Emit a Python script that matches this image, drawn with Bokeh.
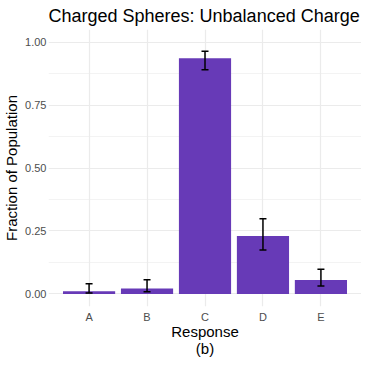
from bokeh.plotting import figure
from bokeh.models import ColumnDataSource, Range1d, FactorRange, FixedTicker, NumeralTickFormatter, Whisker, TeeHead
from bokeh.embed import file_html
from bokeh.resources import INLINE

categories = ["A", "B", "C", "D", "E"]
fraction = [0.011, 0.021, 0.936, 0.230, 0.055]
err_low = [0.004, 0.009, 0.890, 0.174, 0.031]
err_high = [0.040, 0.056, 0.964, 0.298, 0.098]
y_ticks = [0.0, 0.25, 0.5, 0.75, 1.0]
y_minor = [0.125, 0.375, 0.625, 0.875]
x_title = "Response\n(b)"

src = ColumnDataSource(dict(cat=categories, frac=fraction, lo=err_low, hi=err_high))

p = figure(x_range=FactorRange(factors=categories, range_padding=0.2, range_padding_units="absolute"),
           y_range=Range1d(-0.05, 1.05),
           frame_width=313, frame_height=277,
           output_backend="svg", toolbar_location=None,
           title="Charged Spheres: Unbalanced Charge")
p.min_border_left = 43
p.min_border_right = 0
p.min_border_top = 0
p.min_border_bottom = 0
p.outline_line_color = None
p.background_fill_color = "white"
p.border_fill_color = "white"

p.title.text_font = "Liberation Sans"
p.title.text_font_size = "18px"
p.title.text_font_style = "normal"
p.title.text_color = "black"
p.title.align = "left"
p.title.standoff = 7

p.vbar(x="cat", top="frac", width=0.9, source=src, fill_color="#673AB7", line_color=None)
w = Whisker(base="cat", upper="hi", lower="lo", source=src, dimension="height",
            line_color="black", line_width=1.5, level="annotation",
            upper_head=TeeHead(size=7, line_color="black", line_width=1.5),
            lower_head=TeeHead(size=7, line_color="black", line_width=1.5))
p.add_layout(w)

p.yaxis.ticker = FixedTicker(ticks=y_ticks, minor_ticks=y_minor)
p.yaxis.formatter = NumeralTickFormatter(format="0.00")
for ax in (p.xaxis[0], p.yaxis[0]):
    ax.axis_line_color = None
    ax.major_tick_line_color = None
    ax.minor_tick_line_color = None
    ax.major_tick_in = 0
    ax.major_tick_out = 0
    ax.minor_tick_in = 0
    ax.minor_tick_out = 0
    ax.major_label_text_font = "Liberation Sans"
    ax.major_label_text_font_size = "11px"
    ax.major_label_text_color = "#4D4D4D"
    ax.axis_label_text_font = "Liberation Sans"
    ax.axis_label_text_font_size = "15px"
    ax.axis_label_text_font_style = "normal"
    ax.axis_label_text_color = "black"
p.yaxis.axis_label = "Fraction of Population"
p.yaxis.major_label_standoff = 2
p.yaxis.axis_label_standoff = 2
p.xaxis.axis_label = x_title
p.xaxis.axis_label_text_line_height = 1.0
p.xaxis.major_label_standoff = 4
p.xaxis.axis_label_standoff = -3

p.xgrid.grid_line_color = "#EBEBEB"
p.xgrid.grid_line_width = 1.2
p.ygrid.grid_line_color = "#EBEBEB"
p.ygrid.grid_line_width = 1.2
p.ygrid.minor_grid_line_color = "#EBEBEB"
p.ygrid.minor_grid_line_width = 0.6

open("out.html", "w").write(file_html(p, INLINE))
